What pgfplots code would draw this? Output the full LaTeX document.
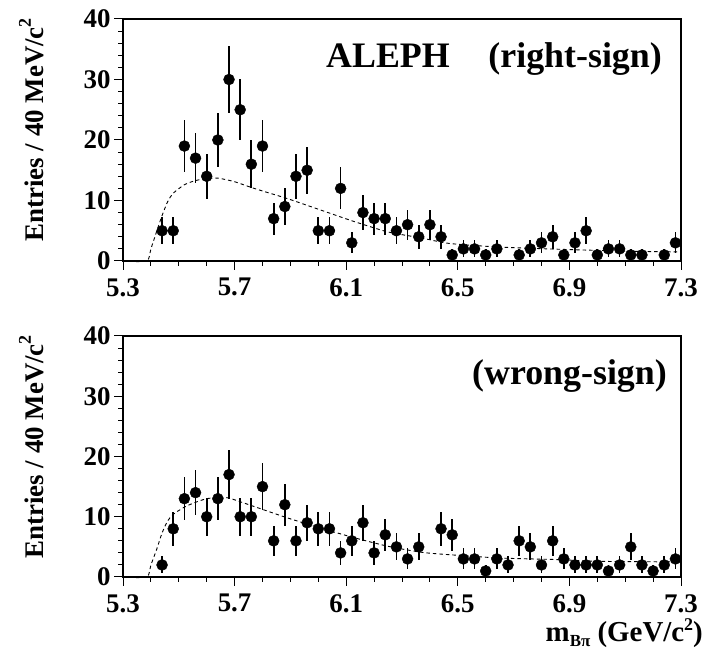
\documentclass[border=0pt]{standalone}
\usepackage{fontspec}
\setmainfont{Liberation Serif}
\usepackage{pgfplots}
\usepackage{pgfplotstable}
\pgfplotsset{compat=1.18}

\pgfplotstableread{
x y e
5.44 5 2.236
5.48 5 2.236
5.52 19 4.359
5.56 17 4.123
5.60 14 3.742
5.64 20 4.472
5.68 30 5.477
5.72 25 5.000
5.76 16 4.000
5.80 19 4.359
5.84 7 2.646
5.88 9 3.000
5.92 14 3.742
5.96 15 3.873
6.00 5 2.236
6.04 5 2.236
6.08 12 3.464
6.12 3 1.732
6.16 8 2.828
6.20 7 2.646
6.24 7 2.646
6.28 5 2.236
6.32 6 2.449
6.36 4 2.000
6.40 6 2.449
6.44 4 2.000
6.48 1 1.000
6.52 2 1.414
6.56 2 1.414
6.60 1 1.000
6.64 2 1.414
6.72 1 1.000
6.76 2 1.414
6.80 3 1.732
6.84 4 2.000
6.88 1 1.000
6.92 3 1.732
6.96 5 2.236
7.00 1 1.000
7.04 2 1.414
7.08 2 1.414
7.12 1 1.000
7.16 1 1.000
7.24 1 1.000
7.28 3 1.732
}\toptable

\pgfplotstableread{
x y e
5.44 2 1.414
5.48 8 2.828
5.52 13 3.606
5.56 14 3.742
5.60 10 3.162
5.64 13 3.606
5.68 17 4.123
5.72 10 3.162
5.76 10 3.162
5.80 15 3.873
5.84 6 2.449
5.88 12 3.464
5.92 6 2.449
5.96 9 3.000
6.00 8 2.828
6.04 8 2.828
6.08 4 2.000
6.12 6 2.449
6.16 9 3.000
6.20 4 2.000
6.24 7 2.646
6.28 5 2.236
6.32 3 1.732
6.36 5 2.236
6.44 8 2.828
6.48 7 2.646
6.52 3 1.732
6.56 3 1.732
6.60 1 1.000
6.64 3 1.732
6.68 2 1.414
6.72 6 2.449
6.76 5 2.236
6.80 2 1.414
6.84 6 2.449
6.88 3 1.732
6.92 2 1.414
6.96 2 1.414
7.00 2 1.414
7.04 1 1.000
7.08 2 1.414
7.12 5 2.236
7.16 2 1.414
7.20 1 1.000
7.24 2 1.414
7.28 3 1.732
}\bottomtable

\pgfplotsset{
  panel/.style={
    scale only axis, width=558bp, height=242bp, anchor=south west,
    xmin=5.3, xmax=7.3, ymin=0, ymax=40,
    xtick={5.3,5.7,6.1,6.5,6.9,7.3},
    xticklabels={5.3,5.7,6.1,6.5,6.9,7.3},
    ytick={0,10,20,30,40},
    minor x tick num=3, minor y tick num=4,
    tick align=outside, tick pos=left,
    major tick length=9bp, minor tick length=5bp,
    axis line style={line width=1.2bp},
    every tick/.style={black, line width=1bp},
    tick label style={font=\fontsize{27}{27}\selectfont\bfseries},
    xticklabel style={inner sep=0pt, yshift=-8bp},
    /pgf/number format/assume math mode=true,
    clip=false,
  },
  dat/.style={only marks, mark=*, mark size=5.5bp, black,
    error bars/.cd, y dir=both, y explicit, error mark=none,
    error bar style={line width=1.7bp, black}},
  fit/.style={black, line width=0.9bp, dash pattern=on 3.5bp off 3bp, smooth, tension=0.4},
}

\begin{document}
\begin{tikzpicture}
\path[use as bounding box] (0,0) rectangle (710bp,649bp);

\begin{axis}[panel, at={(123bp,388bp)}]
  \addplot[fit] coordinates {(5.30,0) (5.385,0) (5.40,2) (5.42,4.8) (5.44,7.5) (5.46,9.8) (5.48,11.2) (5.52,12.6) (5.56,13.3) (5.60,13.6) (5.64,13.7) (5.70,13.1) (5.77,12.0) (5.89,10.3) (6.01,8.4) (6.13,6.5) (6.25,4.8) (6.37,3.8) (6.47,2.9) (6.65,2.3) (6.89,1.9) (7.13,1.6) (7.30,1.5)};
  \addplot[dat] table[x=x, y=y, y error=e] {\toptable};
\end{axis}

\begin{axis}[panel, at={(123bp,72bp)}, height=241bp]
  \addplot[fit] coordinates {(5.30,0) (5.385,0) (5.40,2) (5.42,4.5) (5.44,7.3) (5.46,9.3) (5.48,10.4) (5.52,11.6) (5.56,12.4) (5.60,13.0) (5.645,13.2) (5.68,13.1) (5.77,11.7) (5.89,9.8) (6.01,8.1) (6.13,6.5) (6.25,5.1) (6.37,4.1) (6.47,3.7) (6.65,3.15) (6.85,2.9) (7.01,2.6) (7.30,2.5)};
  \addplot[dat] table[x=x, y=y, y error=e] {\bottomtable};
\end{axis}

\node[inner sep=0pt, anchor=base west, font=\fontsize{36}{36}\selectfont\bfseries] at (326bp,581bp) {ALEPH};
\node[inner sep=0pt, anchor=base east, font=\fontsize{36}{36}\selectfont\bfseries] at (662bp,581bp) {(right-sign)};
\node[inner sep=0pt, anchor=base east, font=\fontsize{36}{36}\selectfont\bfseries] at (667bp,264bp) {(wrong-sign)};

\node[inner sep=0pt, rotate=90, anchor=base east, font=\fontsize{27}{27}\selectfont\bfseries] at (43bp,631bp) {Entries / 40 MeV/c\raisebox{0.45em}{\fontsize{18}{18}\selectfont 2}};
\node[inner sep=0pt, rotate=90, anchor=base east, font=\fontsize{27}{27}\selectfont\bfseries] at (43bp,314bp) {Entries / 40 MeV/c\raisebox{0.45em}{\fontsize{18}{18}\selectfont 2}};

\node[inner sep=0pt, anchor=base east, font=\fontsize{29}{29}\selectfont\bfseries] at (703bp,8bp) {m\raisebox{-0.2em}{\fontsize{17}{17}\selectfont Bπ} (GeV/c\raisebox{0.36em}{\fontsize{18}{18}\selectfont 2})};
\end{tikzpicture}
\end{document}
